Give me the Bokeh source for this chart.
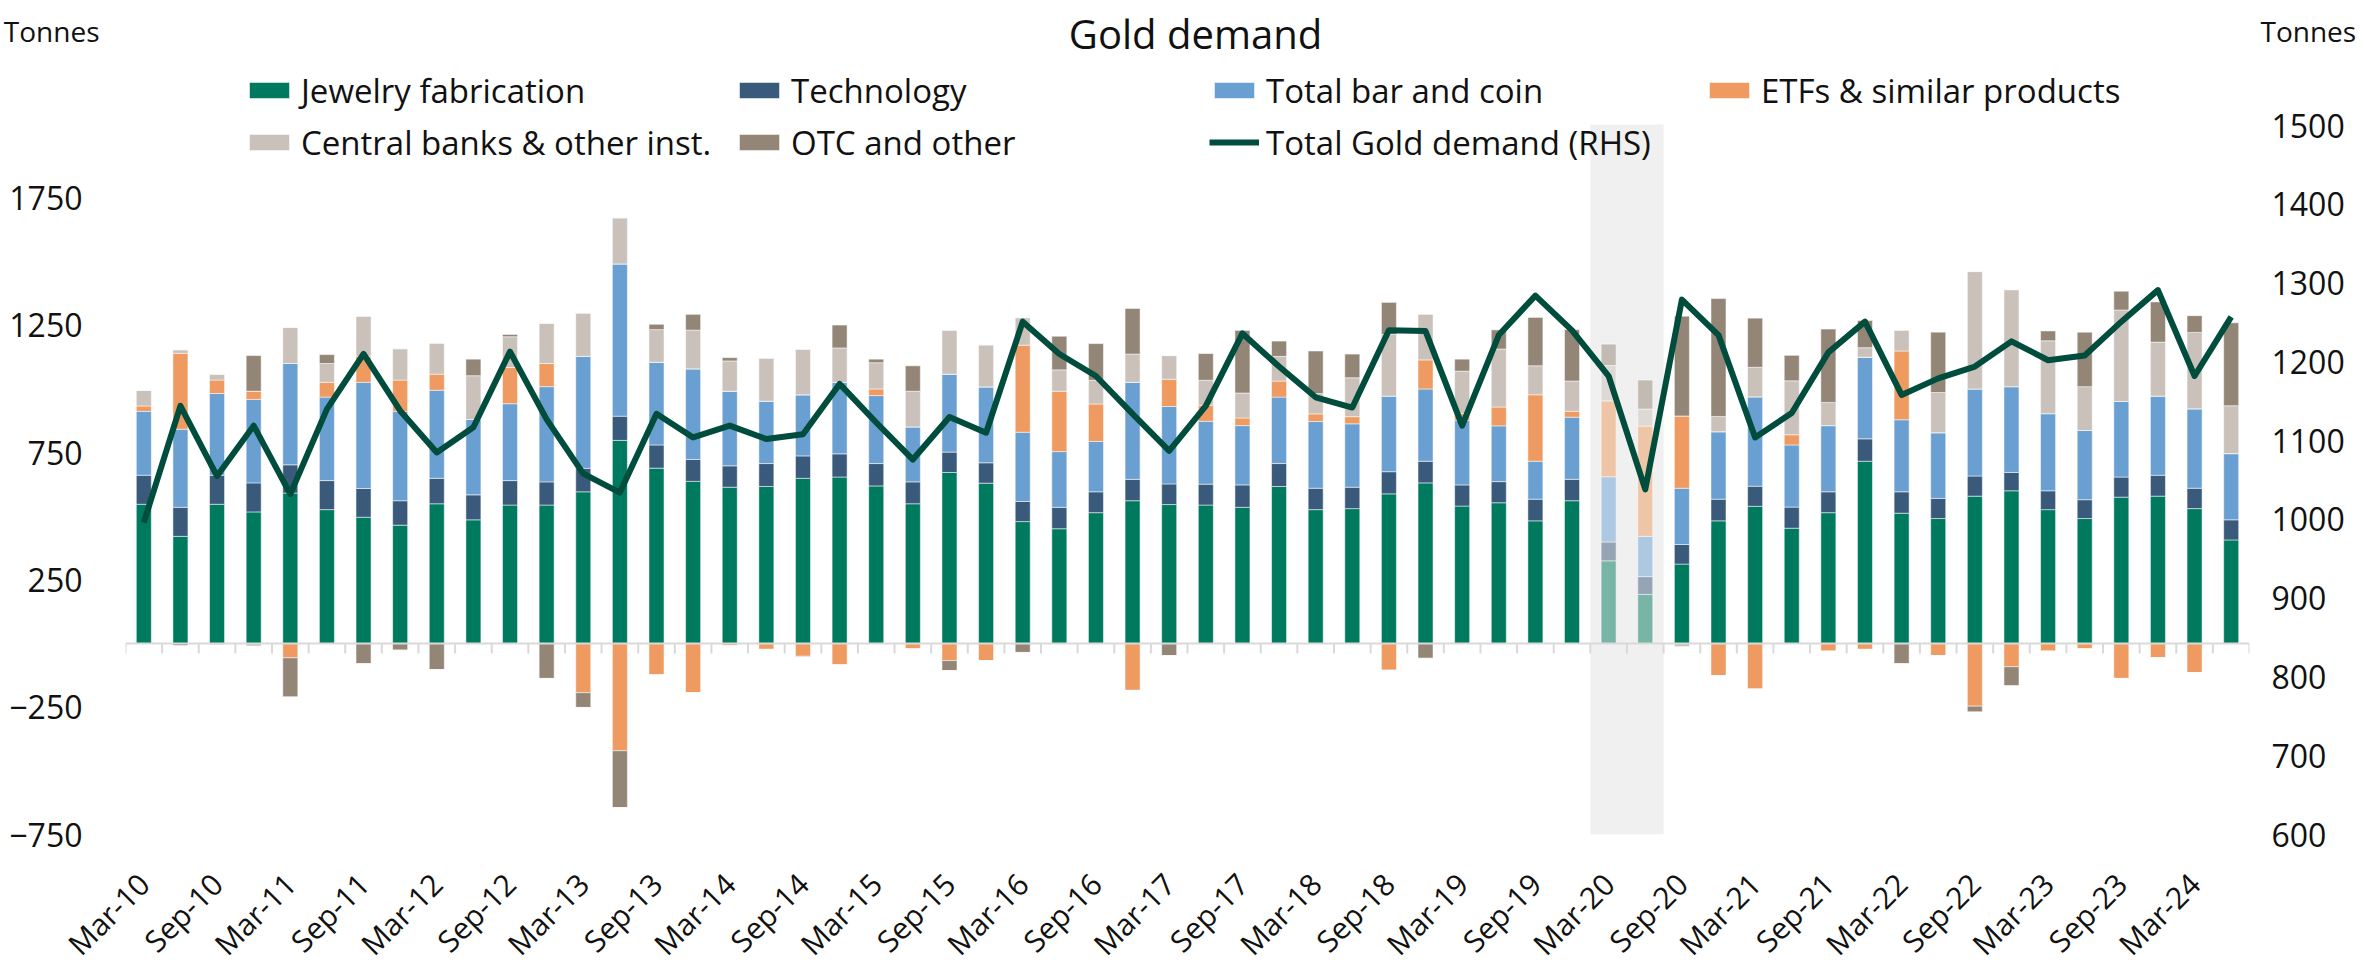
import math
from bokeh.plotting import figure
from bokeh.layouts import column
from bokeh.models import (ColumnDataSource, Range1d, LinearAxis, FixedTicker,
                          BoxAnnotation, Legend, LegendItem, Label, Span)
from bokeh.embed import file_html
from bokeh.resources import INLINE

# ---------------- data (tonnes) ----------------
quarters = ["Mar-10", "Jun-10", "Sep-10", "Dec-10", "Mar-11", "Jun-11", "Sep-11", "Dec-11",
            "Mar-12", "Jun-12", "Sep-12", "Dec-12", "Mar-13", "Jun-13", "Sep-13", "Dec-13",
            "Mar-14", "Jun-14", "Sep-14", "Dec-14", "Mar-15", "Jun-15", "Sep-15", "Dec-15",
            "Mar-16", "Jun-16", "Sep-16", "Dec-16", "Mar-17", "Jun-17", "Sep-17", "Dec-17",
            "Mar-18", "Jun-18", "Sep-18", "Dec-18", "Mar-19", "Jun-19", "Sep-19", "Dec-19",
            "Mar-20", "Jun-20", "Sep-20", "Dec-20", "Mar-21", "Jun-21", "Sep-21", "Dec-21",
            "Mar-22", "Jun-22", "Sep-22", "Dec-22", "Mar-23", "Jun-23", "Sep-23", "Dec-23",
            "Mar-24", "Jun-24"]

jewelry = [547, 421, 547, 517, 591, 526, 496, 465, 549, 486,
           544, 544, 596, 798, 689, 637, 614, 617, 649, 654,
           619, 549, 672, 630, 479, 451, 514, 561, 546, 544,
           535, 617, 526, 530, 588, 631, 540, 553, 482, 561,
           325, 193, 312, 482, 539, 453, 514, 716, 512, 491,
           579, 600, 526, 491, 575, 579, 530, 407]

technology = [114, 114, 114, 114, 111, 114, 113, 96, 100, 98,
              96, 91, 92, 95, 91, 86, 84, 90, 88, 91,
              88, 86, 80, 80, 79, 84, 82, 84, 81, 82,
              88, 90, 84, 84, 87, 85, 83, 83, 85, 84,
              74, 70, 77, 85, 79, 83, 82, 88, 84, 79,
              79, 72, 74, 74, 79, 82, 80, 79]

bar_coin = [251, 307, 321, 328, 398, 328, 417, 351, 346, 296,
            302, 374, 440, 598, 325, 356, 293, 245, 240, 281,
            267, 216, 306, 298, 272, 219, 198, 381, 304, 247,
            233, 261, 262, 249, 297, 284, 254, 219, 149, 244,
            256, 158, 221, 265, 351, 244, 260, 321, 283, 258,
            342, 337, 303, 272, 297, 311, 312, 260]

etfs = [21, 298, 53, 32, -56, 58, 102, 123, 63, 0,
        142, 91, -193, -421, -123, -193, -9, -23, -50, -84,
        26, -21, -67, -67, 342, 237, 147, -184, 107, 63,
        30, 63, 30, 28, -105, 114, 26, 74, 261, 23,
        298, 433, 284, -126, -179, 40, -30, -23, 270, -47,
        -246, -91, -30, -21, -137, -56, -114, -5]

central_banks = [61, 14, 23, -10, 142, 74, 158, 123, 122, 172,
                 121, 158, 170, 181, 128, 152, 119, 169, 179, 135,
                 103, 140, 173, 165, 108, 84, 93, 111, 93, 98,
                 98, 97, 80, 153, 242, 180, 167, 228, 114, 119,
                 139, 67, -12, 60, 116, 212, 91, 37, 82, 158,
                 461, 381, 286, 172, 359, 212, 300, 188]

otc = [0, -9, -5, 140, -154, 35, -79, -26, -102, 65,
       9, -137, -58, -223, 21, 62, 13, 0, -3, 90,
       14, 100, -39, 0, -35, 132, 144, 179, -47, 105,
       246, 60, 167, 93, 126, -58, 47, 75, 190, 202,
       84, 114, 392, 463, 193, 100, 288, 107, -79, 237,
       -23, -75, 39, 214, 74, 158, 66, 326]

total_demand = [996, 1144, 1055, 1119, 1032, 1140, 1210, 1138, 1085, 1117,
                1213, 1127, 1058, 1034, 1134, 1104, 1119, 1102, 1108, 1172,
                1123, 1076, 1130, 1110, 1251, 1210, 1182, 1134, 1087, 1144,
                1236, 1194, 1155, 1142, 1240, 1239, 1119, 1234, 1284, 1240,
                1182, 1038, 1279, 1234, 1104, 1135, 1212, 1251, 1158, 1179,
                1194, 1226, 1202, 1208, 1251, 1291, 1182, 1257]

shaded_quarters = ["Mar-20", "Jun-20"]
left_ticks = [-750, -250, 250, 750, 1250, 1750]
right_ticks = [600, 700, 800, 900, 1000, 1100, 1200, 1300, 1400, 1500]
unit_label = "Tonnes"
title_text = "Gold demand"

# ---------------- styling / layout (pixels) ----------------
FONT = "Open Sans"
TXT = "#111111"
C_JEW, C_TECH, C_BC = "#007A5E", "#3A5A7B", "#6A9FD1"
C_ETF, C_CB, C_OTC = "#EE9A60", "#C9C1BA", "#938677"
C_LINE = "#004D3D"
C_AXIS = "#D9D9D9"

PAGE_W = 2364
HEAD_H = 60                   # header strip (title + unit labels)
FRAME_L, FRAME_R = 122, 2246  # plot frame, page x
FRAME_B = 834                 # plot frame bottom, page y
FRAME_H = FRAME_B - HEAD_H
BOTTOM = 134
SHADE_TOP = 124

# left axis: -750 at y=834, 1750 at y=197.5 ; right axis: 600 at y=834, 1500 at y=125
Y0 = -750
L_PPU = (834 - 197.5) / 2500.0
R0 = 600
R_PPU = (834 - 125) / 900.0
Y1 = Y0 + FRAME_H / L_PPU
R1 = R0 + FRAME_H / R_PPU

n = len(quarters)
xs = list(range(n))
X0, X1 = -0.5, n - 0.5

def pos(v):
    return [max(a, 0) for a in v]

def neg(v):
    return [min(a, 0) for a in v]

alpha = [0.5 if q in shaded_quarters else 1.0 for q in quarters]

src = ColumnDataSource(dict(
    x=xs, jew=jewelry, tech=technology, bc=bar_coin,
    etf_p=pos(etfs), cb_p=pos(central_banks), otc_p=pos(otc),
    etf_n=neg(etfs), otc_n=neg(otc), cb_n=neg(central_banks),
    total=total_demand, alpha=alpha))

# ---------------- header strip (title + unit labels) ----------------
head = figure(title=None, frame_width=FRAME_R - FRAME_L, frame_height=HEAD_H,
              min_border_left=FRAME_L, min_border_right=PAGE_W - FRAME_R,
              min_border_top=0, min_border_bottom=0,
              x_axis_type=None, y_axis_type=None,
              x_range=Range1d(FRAME_L, FRAME_R), y_range=Range1d(HEAD_H, 0),
              output_backend="svg", toolbar_location=None)
head.outline_line_color = None
head.background_fill_color = "white"
head.border_fill_color = "white"
head.add_layout(Label(x=1192, y=33, text=title_text, text_align="center",
                      text_baseline="middle", text_font=FONT, text_font_size="40px",
                      text_color=TXT))
UNIT_Y = 30
for side, standoff in (("left", 20), ("right", 5)):
    ax = LinearAxis(ticker=FixedTicker(ticks=[UNIT_Y]),
                    major_label_overrides={UNIT_Y: unit_label},
                    axis_line_color=None, major_tick_line_color=None,
                    minor_tick_line_color=None, major_label_standoff=standoff,
                    major_label_text_font=FONT, major_label_text_font_size="28px",
                    major_label_text_color=TXT)
    head.add_layout(ax, side)

# ---------------- main chart ----------------
p = figure(title=None, frame_width=FRAME_R - FRAME_L, frame_height=FRAME_H,
           min_border_left=FRAME_L, min_border_right=PAGE_W - FRAME_R,
           min_border_top=0, min_border_bottom=BOTTOM,
           x_range=Range1d(X0, X1), y_range=Range1d(Y0, Y1),
           output_backend="svg", toolbar_location=None)
p.extra_y_ranges = {"rhs": Range1d(R0, R1)}
p.xgrid.visible = False
p.ygrid.visible = False
p.outline_line_color = None
p.background_fill_color = "white"
p.border_fill_color = "white"

# shaded Covid period
i0 = quarters.index(shaded_quarters[0])
i1 = quarters.index(shaded_quarters[-1])
p.add_layout(BoxAnnotation(left=i0 - 0.5, right=i1 + 0.5, bottom=Y0,
                           top=Y0 + (FRAME_B - SHADE_TOP) / L_PPU,
                           fill_color="#F0F0F0", fill_alpha=1, line_color=None,
                           level="underlay"))

BW = 0.41
rp = p.vbar_stack(["jew", "tech", "bc", "etf_p", "cb_p", "otc_p"], x="x", width=BW,
                  source=src, fill_color=[C_JEW, C_TECH, C_BC, C_ETF, C_CB, C_OTC],
                  fill_alpha="alpha", line_color="white", line_width=1, line_alpha=0.5)
rn = p.vbar_stack(["etf_n", "otc_n", "cb_n"], x="x", width=BW, source=src,
                  fill_color=[C_ETF, C_OTC, C_CB], fill_alpha="alpha",
                  line_color="white", line_width=1, line_alpha=0.5)

# zero line with category tick marks
p.add_layout(Span(location=0, dimension="width", line_color=C_AXIS, line_width=2))
bounds = [i - 0.5 for i in range(n + 1)]
tick_len = 10 / L_PPU
p.segment(x0=bounds, y0=[0] * len(bounds), x1=bounds, y1=[-tick_len] * len(bounds),
          line_color=C_AXIS, line_width=2)

rl = p.line("x", "total", source=src, y_range_name="rhs", line_color=C_LINE,
            line_width=6, line_join="round")

# bottom category labels
xa = p.xaxis[0]
xa.ticker = FixedTicker(ticks=list(range(0, n, 2)))
xa.major_label_overrides = {i: quarters[i] for i in range(0, n, 2)}
xa.major_label_orientation = math.pi / 4
xa.axis_line_color = None
xa.major_tick_line_color = None
xa.minor_tick_line_color = None
xa.major_label_standoff = 38
xa.major_label_text_font = FONT
xa.major_label_text_font_size = "30px"
xa.major_label_text_color = TXT

ya = p.yaxis[0]
ya.ticker = FixedTicker(ticks=left_ticks)
ya.axis_line_color = None
ya.major_tick_line_color = None
ya.minor_tick_line_color = None
ya.major_label_standoff = 37
ya.major_label_text_font = FONT
ya.major_label_text_font_size = "32px"
ya.major_label_text_color = TXT

ra = LinearAxis(y_range_name="rhs", ticker=FixedTicker(ticks=right_ticks),
                axis_line_color=None, major_tick_line_color=None, minor_tick_line_color=None,
                major_label_standoff=16, major_label_text_font=FONT,
                major_label_text_font_size="32px", major_label_text_color=TXT)
p.add_layout(ra, "right")

# legend: four columns, two rows (inside the frame)
LH, SP = 46, 6
ROW1_CENTER = 90

def add_legend(items, left_px):
    h = len(items) * LH + (len(items) - 1) * SP
    top_px = ROW1_CENTER - LH / 2
    lg = Legend(items=items,
                location=(left_px - FRAME_L, FRAME_H - (top_px - HEAD_H) - h),
                orientation="vertical", glyph_width=50, glyph_height=20,
                label_height=LH, spacing=SP, label_standoff=7, padding=0, margin=0,
                border_line_color=None, background_fill_alpha=0,
                label_text_font=FONT, label_text_font_size="33px",
                label_text_color=TXT)
    p.add_layout(lg)

add_legend([LegendItem(label="Jewelry fabrication", renderers=[rp[0]], index=0),
            LegendItem(label="Central banks & other inst.", renderers=[rp[4]], index=0)], 241)
add_legend([LegendItem(label="Technology", renderers=[rp[1]], index=0),
            LegendItem(label="OTC and other", renderers=[rp[5]], index=0)], 731)
add_legend([LegendItem(label="Total bar and coin", renderers=[rp[2]], index=0),
            LegendItem(label="Total Gold demand (RHS)", renderers=[rl])], 1206)
add_legend([LegendItem(label="ETFs & similar products", renderers=[rp[3]], index=0)], 1701)

layout = column(head, p, spacing=0)
open("out.html", "w").write(file_html(layout, INLINE))
